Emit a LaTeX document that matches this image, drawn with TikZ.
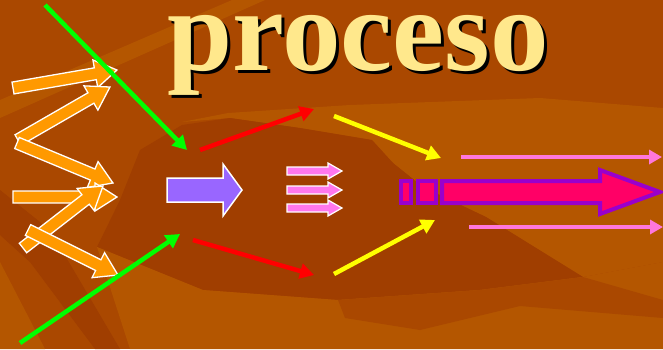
\documentclass[tikz,border=0pt]{standalone}
\usepackage{fontspec}
\setmainfont{Liberation Serif}
\usetikzlibrary{arrows.meta}
\definecolor{bgmid}{HTML}{AA4800}
\definecolor{bglight}{HTML}{B45600}
\definecolor{bgdeep}{HTML}{A03E00}
\definecolor{cream}{HTML}{FFE88C}
\definecolor{orangearr}{HTML}{FF9900}
\definecolor{violetarr}{HTML}{9966FF}
\definecolor{pinkarr}{HTML}{FF77EE}
\definecolor{pinkline}{HTML}{FF77DD}
\definecolor{magfill}{HTML}{FF0066}
\definecolor{purpline}{HTML}{9900CC}
\definecolor{greenl}{HTML}{00FF00}
\definecolor{redl}{HTML}{FF0000}
\definecolor{yellowl}{HTML}{FFFF00}
\newcommand\myblockarrow[8]{%
  \pgfmathsetmacro\bdx{#3-#1}%
  \pgfmathsetmacro\bdy{#4-#2}%
  \pgfmathsetmacro\bang{atan2(-\bdy,\bdx)}%
  \pgfmathsetmacro\blen{veclen(\bdx,\bdy)}%
  \pgfmathsetmacro\bneck{\blen-#7}%
  \begin{scope}[shift={(#1,#2)},rotate=\bang]
    \draw[#8] (0,-#5) -- (\bneck,-#5) -- (\bneck,-#6) -- (\blen,0) -- (\bneck,#6) -- (\bneck,#5) -- (0,#5) -- cycle;
  \end{scope}}
\tikzset{
  orangestyle/.style={fill=orangearr,draw=white,line width=1.3pt,line join=miter},
  violetstyle/.style={fill=violetarr,draw=white,line width=1.5pt},
  pinkstyle/.style={fill=pinkarr,draw=white,line width=1.2pt},
  magstyle/.style={fill=magfill,draw=purpline,line width=4pt,line join=miter},
  thinarrow/.style={line width=4.5pt,-{Triangle[length=14pt,width=15pt]}},
  titlefont/.style={font=\bfseries\fontsize{117}{120}\selectfont,text height=56pt,text depth=26pt,inner sep=0pt,anchor=base west},
}
\begin{document}
\begin{tikzpicture}[x=1pt,y=-1pt]
\useasboundingbox (0,0) rectangle (663,349);
% background
\fill[bgmid] (0,0) rectangle (663,349);
\fill[bglight] (0,100) -- (0,118) -- (265,0) -- (232,0) -- cycle;
\fill[bglight] (182,122) -- (228,113) -- (350,105) -- (540,98) -- (663,108) -- (663,262) -- (583,277) -- (486,217) -- (423,187) -- (393,163) -- (372,140) -- (300,128) -- (230,118) -- cycle;
\fill[bgdeep] (182,125) -- (230,118) -- (300,128) -- (372,140) -- (393,163) -- (423,187) -- (486,217) -- (583,277) -- (480,290) -- (338,300) -- (203,290) -- (97,247) -- (120,200) -- (140,150) -- cycle;
\fill[bglight] (97,247) -- (203,290) -- (338,300) -- (480,290) -- (583,277) -- (663,262) -- (663,349) -- (130,349) -- cycle;
\fill[bgmid] (338,300) -- (480,290) -- (583,277) -- (663,300) -- (663,318) -- (520,306) -- (420,330) -- (345,318) -- cycle;
\fill[bgdeep] (0,190) -- (50,230) -- (120,349) -- (95,349) -- (30,262) -- (0,235) -- cycle;
\fill[bglight] (0,262) -- (45,349) -- (0,349) -- cycle;
\fill[bgmid] (440,0) -- (663,0) -- (663,60) -- (520,50) -- cycle;
% title
\node[text=black,titlefont] (titleshadow) at (170,73) {proceso};
\node[text=cream,titlefont] (title) at (167,70) {proceso};
% orange block arrows
\myblockarrow{13}{88}{117}{70}{6}{14}{22}{orangestyle}
\myblockarrow{18}{140}{110}{87}{6}{14}{22}{orangestyle}
\myblockarrow{17}{143}{113}{183}{6}{14}{22}{orangestyle}
\myblockarrow{13}{197}{117}{197}{6}{14}{22}{orangestyle}
\myblockarrow{23}{248}{103}{186}{6}{14}{22}{orangestyle}
\myblockarrow{28}{230}{118}{275}{6}{14}{22}{orangestyle}
% green lines
\coordinate (g1s) at (45,5);
\coordinate (g1e) at (187,150);
\coordinate (g2s) at (20,343);
\coordinate (g2e) at (180,234);
\draw[greenl,thinarrow] (g1s) -- (g1e);
\draw[greenl,thinarrow] (g2s) -- (g2e);
% violet block arrow
\myblockarrow{167}{190}{242}{190}{12}{26}{19}{violetstyle}
% pink small arrows
\myblockarrow{287}{171}{342}{171}{4}{8}{14}{pinkstyle}
\myblockarrow{287}{190}{342}{190}{4}{8}{14}{pinkstyle}
\myblockarrow{287}{208}{342}{208}{4}{8}{14}{pinkstyle}
% red lines
\coordinate (r1s) at (200,150);
\coordinate (r1e) at (314,109);
\coordinate (r2s) at (193,240);
\coordinate (r2e) at (314,275);
\draw[redl,thinarrow] (r1s) -- (r1e);
\draw[redl,thinarrow] (r2s) -- (r2e);
% yellow lines
\coordinate (y1s) at (334,116);
\coordinate (y1e) at (441,158);
\coordinate (y2s) at (334,274);
\coordinate (y2e) at (435,220);
\draw[yellowl,thinarrow] (y1s) -- (y1e);
\draw[yellowl,thinarrow] (y2s) -- (y2e);
% pink lines
\coordinate (p1s) at (461,157);
\coordinate (p1e) at (662,157);
\coordinate (p2s) at (469,227);
\coordinate (p2e) at (663,227);
\draw[pinkline,line width=4pt,-{Triangle[length=13pt,width=14pt]}] (p1s) -- (p1e);
\draw[pinkline,line width=4pt,-{Triangle[length=13pt,width=14pt]}] (p2s) -- (p2e);
% big magenta arrow
\draw[magstyle] (401,181) rectangle (411,203);
\draw[magstyle] (418,181) rectangle (436,203);
\myblockarrow{442}{192}{660}{192}{11}{22}{60}{magstyle}
\end{tikzpicture}
\end{document}
